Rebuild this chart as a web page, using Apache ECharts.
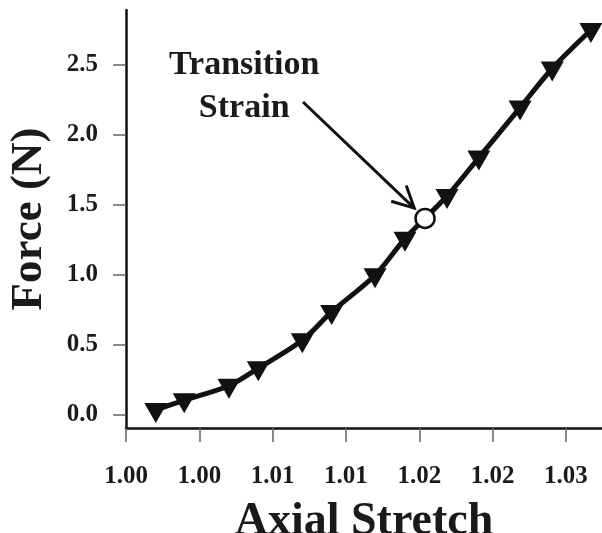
<!DOCTYPE html>
<html>
<head>
<meta charset="utf-8">
<script src="https://cdn.jsdelivr.net/npm/echarts@6/dist/echarts.min.js"></script>
<style>
html,body{margin:0;padding:0;background:#fff;}
#chart{width:602px;height:533px;}
</style>
</head>
<body>
<div id="chart"></div>
<script>
// ---- data ----
const stretch = [1.00203, 1.00397, 1.00702, 1.00902, 1.01202, 1.01402, 1.01698, 1.01902, 1.02189, 1.02406, 1.02687, 1.02906, 1.03170];
const force   = [0.036, 0.105, 0.209, 0.334, 0.534, 0.736, 0.998, 1.259, 1.564, 1.839, 2.196, 2.475, 2.750];
const transitionPoint = [1.02039, 1.404];
const xTickValues = [1.000, 1.005, 1.010, 1.015, 1.020, 1.025, 1.030];
const xTickLabels = ['1.00', '1.00', '1.01', '1.01', '1.02', '1.02', '1.03'];
const yTickValues = [0, 0.5, 1.0, 1.5, 2.0, 2.5];
const yTickLabels = ['0.0', '0.5', '1.0', '1.5', '2.0', '2.5'];
const annotationText = 'Transition\nStrain';
const annotationAnchor = [1.00806, 2.346];
const arrowStart = [1.01207, 2.236];

const FONT = '"Liberation Serif", "Times New Roman", serif';
const lineData = stretch.map((x, i) => [x, force[i]]);

function nearestLabel(v, values, labels) {
  let best = 0;
  for (let i = 1; i < values.length; i++) {
    if (Math.abs(values[i] - v) < Math.abs(values[best] - v)) best = i;
  }
  return labels[best];
}

const chart = echarts.init(document.getElementById('chart'), null, {renderer: 'canvas'});
chart.setOption({
  animation: false,
  backgroundColor: '#fff',
  grid: {left: 126, top: 10, width: 476, height: 418, containLabel: false, outerBoundsMode: 'none'},
  xAxis: {
    type: 'value',
    min: 1.0,
    max: 1.032455,
    name: 'Axial Stretch',
    nameLocation: 'middle',
    nameGap: 71,
    nameTextStyle: {fontFamily: FONT, fontWeight: 'bold', fontSize: 46, color: '#1a1a1a'},
    axisLine: {show: true, onZero: false, lineStyle: {color: '#111', width: 2.5}},
    axisTick: {show: true, customValues: xTickValues, length: 14, lineStyle: {color: '#666', width: 1.5}},
    axisLabel: {
      customValues: xTickValues,
      formatter: v => nearestLabel(v, xTickValues, xTickLabels),
      fontFamily: FONT, fontWeight: 'bold', fontSize: 25, color: '#1a1a1a', margin: 36
    },
    splitLine: {show: false}
  },
  yAxis: {
    type: 'value',
    min: -0.093,
    max: 2.893,
    name: 'Force (N)',
    nameLocation: 'middle',
    nameGap: 74,
    nameTextStyle: {fontFamily: FONT, fontWeight: 'bold', fontSize: 45, color: '#1a1a1a'},
    axisLine: {show: true, onZero: false, lineStyle: {color: '#111', width: 2.5}},
    axisTick: {show: true, customValues: yTickValues, length: 13, lineStyle: {color: '#666', width: 1.5}},
    axisLabel: {
      customValues: yTickValues,
      formatter: v => nearestLabel(v, yTickValues, yTickLabels),
      fontFamily: FONT, fontWeight: 'bold', fontSize: 25, color: '#1a1a1a', margin: 28
    },
    splitLine: {show: false}
  },
  series: [
    {
      type: 'line',
      data: lineData,
      smooth: 0.3,
      symbol: 'triangle',
      symbolSize: [23, 20],
      symbolRotate: 180,
      symbolOffset: [0, 3],
      lineStyle: {color: '#111', width: 5},
      itemStyle: {color: '#111'},
      z: 2
    },
    {
      type: 'scatter',
      data: [transitionPoint],
      symbol: 'circle',
      symbolSize: 19,
      itemStyle: {color: '#fff', borderColor: '#111', borderWidth: 2.5, opacity: 1},
      z: 4
    },
    {
      type: 'custom',
      coordinateSystem: 'cartesian2d',
      data: [transitionPoint],
      clip: false,
      z: 5,
      renderItem: function (params, api) {
        const p0 = api.coord(arrowStart);
        const pc = api.coord(transitionPoint);
        const dx = pc[0] - p0[0], dy = pc[1] - p0[1];
        const len = Math.sqrt(dx * dx + dy * dy);
        const ux = dx / len, uy = dy / len;
        const tip = [pc[0] - ux * 15, pc[1] - uy * 15];
        const back = Math.atan2(-uy, -ux);
        const barb = 24, ang = 27 * Math.PI / 180;
        const b1 = [tip[0] + barb * Math.cos(back + ang), tip[1] + barb * Math.sin(back + ang)];
        const b2 = [tip[0] + barb * Math.cos(back - ang), tip[1] + barb * Math.sin(back - ang)];
        const ta = api.coord(annotationAnchor);
        return {
          type: 'group',
          children: [
            {type: 'polyline', shape: {points: [p0, tip]}, style: {stroke: '#111', lineWidth: 3, fill: null}},
            {type: 'polyline', shape: {points: [b1, tip, b2]}, style: {stroke: '#111', lineWidth: 3, fill: null, lineJoin: 'miter'}},
            {type: 'text', x: ta[0], y: ta[1], style: {
              text: annotationText, fill: '#1a1a1a',
              font: 'bold 34px ' + FONT, align: 'center', verticalAlign: 'middle', lineHeight: 43
            }}
          ]
        };
      }
    }
  ]
});
</script>
</body>
</html>
